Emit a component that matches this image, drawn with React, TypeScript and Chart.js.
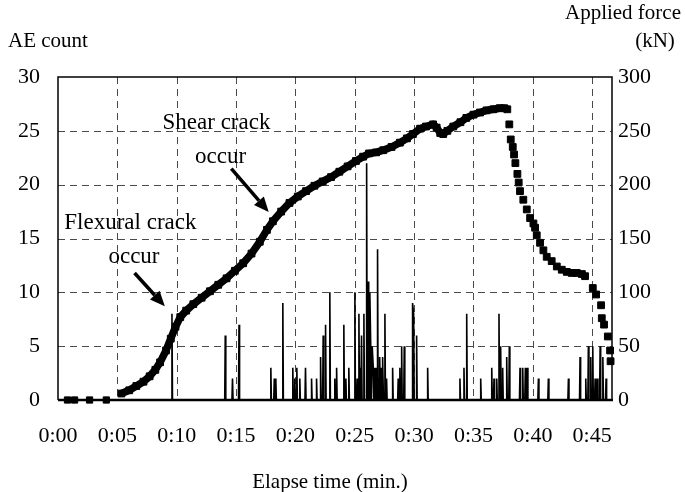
import React, { useEffect, useRef } from "react";
import { Chart, registerables } from "chart.js";

Chart.register(...registerables);

const FONT = "'Liberation Serif', 'Times New Roman', serif";
const TICK_SIZE = 22;
const TITLE_SIZE = 21;
const NOTE_SIZE = 23;

// X axis (elapsed minutes)
const X_MAX = 46.67;
const X_TICKS = [0, 5, 10, 15, 20, 25, 30, 35, 40, 45];
const X_TICK_LABELS = ["0:00", "0:05", "0:10", "0:15", "0:20", "0:25", "0:30", "0:35", "0:40", "0:45"];

// Left axis (AE count) and right axis (applied force, kN)
const AE_MAX = 30;
const AE_STEP = 5;
const FORCE_MAX = 300;
const FORCE_STEP = 50;

// AE count spikes (minutes, count)
const AE_TIMES = [9.60, 14.09, 14.70, 15.25, 17.93, 18.22, 18.35, 18.94, 19.78, 19.95, 20.12, 20.37, 20.85, 21.36, 21.78, 22.12, 22.34, 22.54, 22.90, 23.32, 23.47, 24.08, 24.25, 24.50, 25.01, 25.20, 25.35, 25.45, 25.57, 25.77, 26.00, 26.13, 26.27, 26.36, 26.47, 26.56, 26.70, 26.80, 26.92, 27.02, 27.12, 27.25, 27.37, 27.54, 27.68, 28.19, 28.66, 28.80, 28.95, 29.17, 29.87, 29.96, 30.21, 31.14, 33.86, 34.20, 34.43, 35.61, 36.54, 36.73, 36.96, 37.15, 37.29, 37.46, 37.80, 38.02, 38.92, 39.15, 39.37, 39.54, 40.47, 41.31, 43.00, 43.98, 44.46, 44.68, 44.88, 45.05, 45.25, 45.44, 45.67, 45.90, 46.17];
const AE_COUNTS = [8, 6, 2, 7, 3, 2, 2, 9, 3, 2, 3, 2, 3, 2, 2, 4, 6, 7, 10, 2, 3, 7, 2, 3, 10, 2, 8, 3, 6, 8, 22, 11, 10, 4, 5, 3, 3, 3, 14, 2, 4, 3, 4, 8, 2, 3, 2, 3, 5, 5, 9, 8, 6, 3, 2, 3, 8, 2, 3, 2, 2, 8, 5, 3, 4, 5, 3, 3, 3, 3, 2, 2, 2, 4, 2, 5, 4, 5, 2, 2, 5, 4, 2];

// Applied force: early sparse samples
const FORCE_START_TIME = [0.8, 1.4, 2.66, 4.07];
const FORCE_START_KN = [0, 0, 0, 0];
// Applied force: dense loading branch
const FORCE_RISE_TIME = [5.34, 6.0, 6.6, 7.2, 7.72, 8.2, 8.6, 9.1, 9.5, 9.9, 10.3, 10.8, 11.4, 12.1, 12.8, 13.5, 14.2, 14.9, 15.6, 16.3, 17.0, 17.6, 18.1, 18.8, 19.5, 20.2, 20.9, 21.6, 22.3, 23.0, 23.7, 24.4, 25.1, 25.7, 26.2, 26.8, 27.4, 28.1, 28.8, 29.4, 29.9, 30.5, 31.0, 31.6, 31.9, 32.2, 32.45, 32.8, 33.3, 33.9, 34.4, 35.0, 35.55, 36.1, 36.67, 37.2, 37.6, 37.85];
const FORCE_RISE_KN = [6, 9, 13, 17, 22, 28, 35, 46, 57, 68, 77, 83, 89, 95, 101, 107, 113, 120, 127, 136, 147, 158, 166, 175, 183, 189, 194, 199, 203, 207, 212, 217, 222, 226, 229, 230, 232, 235, 239, 243, 247, 252, 254, 256, 253, 248, 247, 250, 254, 258, 262, 265, 267, 269, 270, 271, 271, 270];
// Applied force: post-peak samples
const FORCE_DROP_TIME = [38.02, 38.14, 38.31, 38.42, 38.53, 38.70, 38.81, 38.92, 39.20, 39.49, 39.77, 40.05, 40.19, 40.33, 40.61, 40.89, 41.17, 41.59, 42.02, 42.44, 42.86, 43.28, 43.70, 44.13, 44.40, 45.05, 45.33, 45.75, 45.81, 46.0, 46.32, 46.51, 46.55];
const FORCE_DROP_KN = [256, 242, 235, 228, 220, 210, 202, 194, 186, 177, 169, 164, 160, 153, 146, 139, 133, 129, 124, 121, 119, 118, 118, 117, 115, 104, 98, 88, 76, 70, 59, 46, 36];

// Annotations in data units (minutes, AE count)
const ANNOTATION_TEXTS = [
  { text: "Shear crack", t: 13.35, v: 25.7 },
  { text: "occur", t: 13.7, v: 22.6 },
  { text: "Flexural crack", t: 6.1, v: 16.4 },
  { text: "occur", t: 6.4, v: 13.3 },
];
const ANNOTATION_ARROWS = [
  { t1: 14.6, v1: 21.5, t2: 17.75, v2: 17.45 },
  { t1: 6.45, v1: 11.8, t2: 9.0, v2: 8.7 },
];

function buildAE() {
  const pts: { x: number; y: number }[] = [{ x: 0, y: 0 }];
  const pad = 0.045;
  const gap = 0.09;
  for (let i = 0; i < AE_TIMES.length; i++) {
    const t = AE_TIMES[i];
    if (i === 0 || t - AE_TIMES[i - 1] > gap) pts.push({ x: t - pad, y: 0 });
    pts.push({ x: t, y: AE_COUNTS[i] });
    if (i === AE_TIMES.length - 1 || AE_TIMES[i + 1] - t > gap) pts.push({ x: t + pad, y: 0 });
  }
  pts.push({ x: X_MAX, y: 0 });
  return pts;
}

function zip(ts: number[], vs: number[]) {
  return ts.map((t, i) => ({ x: t, y: vs[i] }));
}

const framePlugin = {
  id: "frameAndText",
  beforeDatasetsDraw(chart: any) {
    const { ctx, chartArea: a, scales } = chart;
    ctx.save();
    ctx.strokeStyle = "#4a4a4a";
    ctx.lineWidth = 1;
    ctx.setLineDash([7, 5]);
    for (const v of X_TICKS) {
      if (v === 0) continue;
      const x = Math.round(scales.x.getPixelForValue(v)) + 0.5;
      ctx.beginPath();
      ctx.moveTo(x, a.top);
      ctx.lineTo(x, a.bottom);
      ctx.stroke();
    }
    for (let v = AE_STEP; v < AE_MAX; v += AE_STEP) {
      const y = Math.round(scales.y.getPixelForValue(v)) + 0.5;
      ctx.beginPath();
      ctx.moveTo(a.left, y);
      ctx.lineTo(a.right, y);
      ctx.stroke();
    }
    ctx.restore();
  },
  afterDraw(chart: any) {
    const { ctx, chartArea: a, scales } = chart;
    ctx.save();
    ctx.setLineDash([]);
    ctx.strokeStyle = "#000";
    ctx.lineWidth = 1.5;
    ctx.beginPath();
    ctx.moveTo(a.left, a.bottom);
    ctx.lineTo(a.left, a.top);
    ctx.lineTo(a.right, a.top);
    ctx.lineTo(a.right, a.bottom);
    ctx.stroke();
    ctx.lineWidth = 2.5;
    ctx.beginPath();
    ctx.moveTo(a.left, a.bottom);
    ctx.lineTo(a.right + 1, a.bottom);
    ctx.stroke();

    ctx.fillStyle = "#000";
    ctx.font = `${TITLE_SIZE}px ${FONT}`;
    ctx.textBaseline = "middle";
    ctx.textAlign = "left";
    ctx.fillText("AE count", 8, 41);
    ctx.textAlign = "right";
    ctx.fillText("Applied force", 681, 13);
    ctx.textAlign = "center";
    ctx.fillText("(kN)", 655, 41);
    ctx.fillText("Elapse time (min.)", (a.left + a.right) / 2 - 5, 482);

    ctx.font = `${NOTE_SIZE}px ${FONT}`;
    for (const an of ANNOTATION_TEXTS) {
      ctx.fillText(an.text, scales.x.getPixelForValue(an.t), scales.y.getPixelForValue(an.v));
    }
    for (const ar of ANNOTATION_ARROWS) {
      const x1 = scales.x.getPixelForValue(ar.t1);
      const y1 = scales.y.getPixelForValue(ar.v1);
      const x2 = scales.x.getPixelForValue(ar.t2);
      const y2 = scales.y.getPixelForValue(ar.v2);
      const ang = Math.atan2(y2 - y1, x2 - x1);
      const hl = 15;
      const hw = 6.5;
      const bx = x2 - hl * Math.cos(ang);
      const by = y2 - hl * Math.sin(ang);
      ctx.lineWidth = 3.5;
      ctx.beginPath();
      ctx.moveTo(x1, y1);
      ctx.lineTo(bx, by);
      ctx.stroke();
      ctx.beginPath();
      ctx.moveTo(x2, y2);
      ctx.lineTo(bx + hw * Math.sin(ang), by - hw * Math.cos(ang));
      ctx.lineTo(bx - hw * Math.sin(ang), by + hw * Math.cos(ang));
      ctx.closePath();
      ctx.fill();
    }
    ctx.restore();
  },
};

export default function App() {
  const ref = useRef<HTMLCanvasElement>(null);
  useEffect(() => {
    const canvas = ref.current!;
    const tickFont = { family: FONT, size: TICK_SIZE };
    const chart = new Chart(canvas, {
      type: "line",
      data: {
        datasets: [
          {
            label: "AE count",
            data: buildAE(),
            yAxisID: "y",
            borderColor: "#000",
            borderWidth: 1.6,
            pointRadius: 0,
            tension: 0,
            fill: false,
          },
          {
            label: "Force rise",
            data: zip(FORCE_RISE_TIME, FORCE_RISE_KN),
            yAxisID: "y2",
            borderColor: "#000",
            borderWidth: 7.5,
            borderJoinStyle: "round",
            pointStyle: "rect",
            pointRadius: 4.8,
            pointBorderWidth: 1,
            pointBackgroundColor: "#000",
            pointBorderColor: "#000",
            tension: 0,
            fill: false,
            clip: 10,
          },
          {
            label: "Force start",
            data: zip(FORCE_START_TIME, FORCE_START_KN),
            yAxisID: "y2",
            showLine: false,
            pointStyle: "rect",
            pointRadius: 4.4,
            pointBorderWidth: 1,
            pointBackgroundColor: "#000",
            pointBorderColor: "#000",
            clip: 10,
          },
          {
            label: "Force drop",
            data: zip(FORCE_DROP_TIME, FORCE_DROP_KN),
            yAxisID: "y2",
            showLine: false,
            pointStyle: "rect",
            pointRadius: 4.8,
            pointBorderWidth: 1,
            pointBackgroundColor: "#000",
            pointBorderColor: "#000",
            clip: 10,
          },
        ],
      },
      options: {
        responsive: false,
        maintainAspectRatio: false,
        animation: false,
        events: [],
        layout: { padding: { top: 77, left: 0, right: 0, bottom: 0 } },
        plugins: { legend: { display: false }, tooltip: { enabled: false } },
        scales: {
          x: {
            type: "linear",
            position: "bottom",
            min: 0,
            max: X_MAX,
            grid: { display: false, drawTicks: false },
            border: { display: false },
            afterBuildTicks: (s: any) => {
              s.ticks = X_TICKS.map((v) => ({ value: v }));
            },
            afterFit: (s: any) => {
              s.height = 92;
            },
            ticks: {
              font: tickFont,
              color: "#000",
              padding: 23,
              maxRotation: 0,
              autoSkip: false,
              callback: (v: any) => X_TICK_LABELS[X_TICKS.indexOf(Number(v))],
            },
          },
          y: {
            type: "linear",
            position: "left",
            min: 0,
            max: AE_MAX,
            grid: { display: false, drawTicks: false },
            border: { display: false },
            afterFit: (s: any) => {
              s.width = 58;
            },
            ticks: { stepSize: AE_STEP, font: tickFont, color: "#000", padding: 18 },
          },
          y2: {
            type: "linear",
            position: "right",
            min: 0,
            max: FORCE_MAX,
            grid: { display: false, drawTicks: false },
            border: { display: false },
            afterFit: (s: any) => {
              s.width = 73;
            },
            ticks: { stepSize: FORCE_STEP, font: tickFont, color: "#000", padding: 6 },
          },
        },
      },
      plugins: [framePlugin],
    } as any);
    return () => chart.destroy();
  }, []);
  return (
    <div style={{ position: "fixed", left: 0, top: 0, width: 685, height: 492, background: "#fff" }}>
      <canvas ref={ref} width={685} height={492} style={{ display: "block", width: 685, height: 492 }} />
    </div>
  );
}
